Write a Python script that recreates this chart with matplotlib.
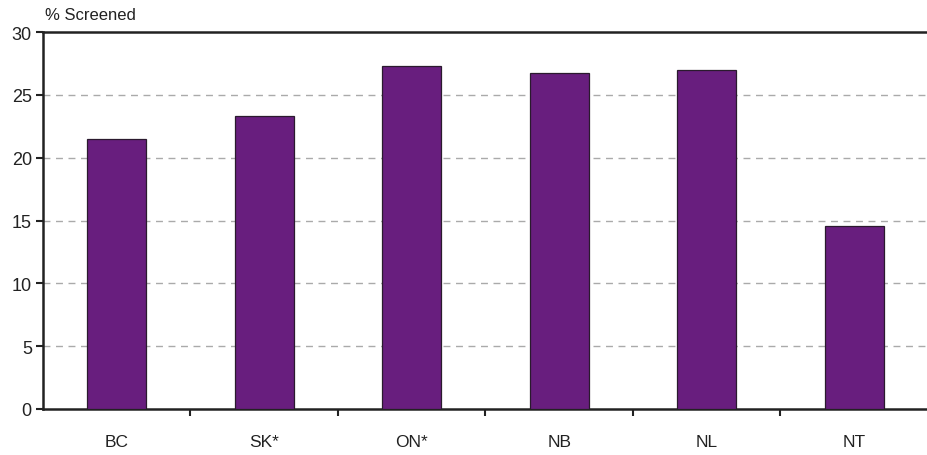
import matplotlib
matplotlib.use("Agg")
import matplotlib.pyplot as plt
from matplotlib import font_manager as fm

names = {f.name for f in fm.fontManager.ttflist}
fam = ["Liberation Sans Narrow", "DejaVu Sans"] if "Liberation Sans Narrow" in names else ["Liberation Sans", "DejaVu Sans"]
plt.rcParams['font.family'] = fam

categories = ["BC", "SK*", "ON*", "NB", "NL", "NT"]
values = [21.5, 23.3, 27.3, 26.7, 27.0, 14.6]
yticks = [0, 5, 10, 15, 20, 25, 30]

fig = plt.figure(figsize=(9.28, 4.56), dpi=100)
ax = fig.add_axes([0.0463, 0.1009, 0.9537, 0.8267])

x = range(len(categories))
ax.bar(x, values, width=0.4, color="#681E7E", edgecolor="#2a1a2e", linewidth=0.9, zorder=3)

ax.set_xlim(-0.5, len(categories) - 0.5)
ax.set_ylim(0, 30)
ax.set_yticks(yticks)
ax.set_yticklabels([str(v) for v in yticks], fontsize=13, color="#222222")
ax.set_xticks(list(x))
ax.set_xticklabels(categories, fontsize=12.5, color="#222222")
ax.tick_params(axis='x', length=0, pad=18)
ax.set_xticks([i + 0.5 for i in range(len(categories) - 1)], minor=True)
ax.tick_params(axis='x', which='minor', length=5, width=1.5, color="#222222", direction='out')
ax.tick_params(axis='y', length=5, width=1.5, color="#222222", direction='out', pad=3)

for v in yticks[1:-1]:
    ax.axhline(v, color="#aaaaaa", linestyle=(0, (5, 4)), linewidth=1.0, zorder=1)

for s in ['left', 'bottom', 'top']:
    ax.spines[s].set_color("#222222")
    ax.spines[s].set_linewidth(1.8)
ax.spines['right'].set_visible(False)

fig.text(45 / 928, 1 - 15 / 456, "% Screened", fontsize=12, color="#222222", ha='left', va='center')

fig.savefig("out.png", dpi=100)
